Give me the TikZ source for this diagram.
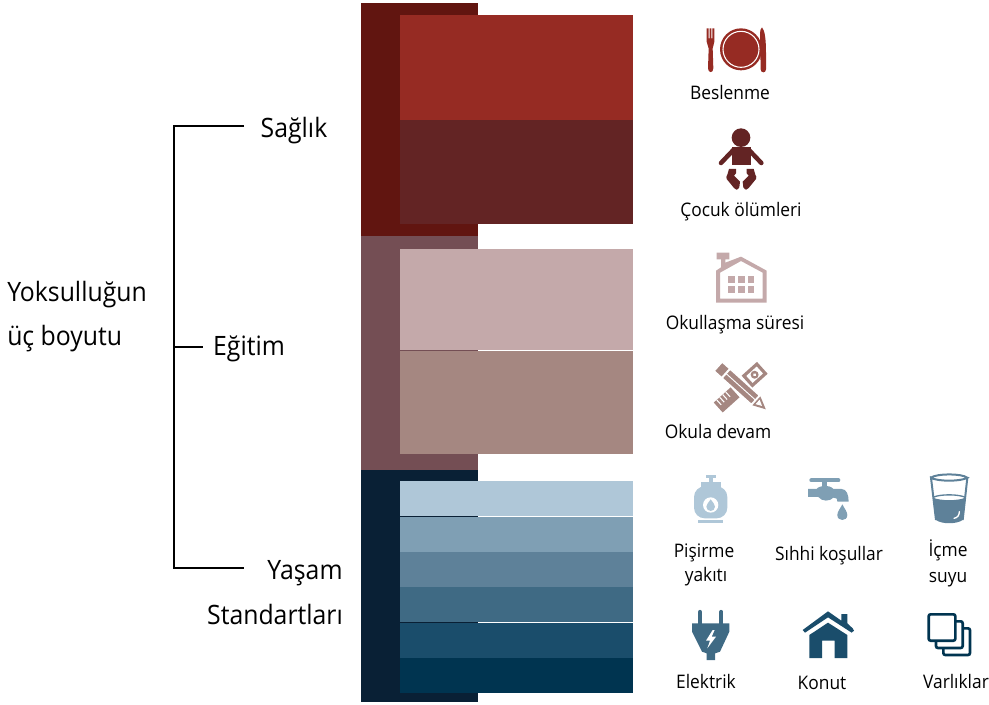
\documentclass[tikz,border=0pt]{standalone}
\usepackage{fontspec}
\setmainfont{Open Sans}[FakeStretch=0.93]
\begin{document}
\begin{tikzpicture}[x=0.75pt,y=-0.75pt,
  big/.style={inner sep=0pt,font=\fontsize{20}{24}\selectfont,text=black},
  lab/.style={inner sep=0pt,font=\fontsize{14}{17}\selectfont,text=black},
  brace/.style={line width=1.6pt,black},
  zoomA/.style={x=.25pt,y=-.25pt}]
\useasboundingbox (0,0) rectangle (989,705);
\definecolor{rA}{HTML}{611510}\definecolor{rB}{HTML}{962B23}\definecolor{rC}{HTML}{632424}
\definecolor{mA}{HTML}{744E54}\definecolor{mB}{HTML}{C4A9AA}\definecolor{mC}{HTML}{A58781}
\definecolor{nA}{HTML}{092035}\definecolor{nB}{HTML}{AFC7D8}\definecolor{nC}{HTML}{7F9FB4}
\definecolor{nD}{HTML}{5E8199}\definecolor{nE}{HTML}{3F6A84}\definecolor{nF}{HTML}{1A4D6B}\definecolor{nG}{HTML}{003450}
% bands
\fill[rA] (361,3) rectangle (478,236);
\fill[mA] (361,236) rectangle (478,470);
\fill[nA] (361,470) rectangle (478,702);
\fill[rB] (400,15) rectangle (633,120);
\fill[rC] (400,120) rectangle (633,224);
\fill[mB] (400,249) rectangle (633,350);
\fill[mC] (400,351) rectangle (633,454);
\fill[nB] (400,481) rectangle (633,516);
\fill[nC] (400,517) rectangle (633,552);
\fill[nD] (400,552) rectangle (633,587);
\fill[nE] (400,587) rectangle (633,622);
\fill[nF] (400,623) rectangle (633,658);
\fill[nG] (400,658) rectangle (633,693);
% left text
\node[big,anchor=west] (yok) at (7,295) {Yoksulluğun};
\node[big,anchor=west] (boy) at (7,339) {üç boyutu};
\node[big] (sag) at (294,131) {Sağlık};
\node[big] (egi) at (249,349) {Eğitim};
\node[big] (yas) at (305,573) {Yaşam};
\node[big] (sta) at (275,614) {Standartları};
\coordinate (bt) at (174,126);
\coordinate (bm) at (174,347);
\coordinate (bb) at (174,568);
\coordinate (et) at (244,126);
\coordinate (em) at (203,347);
\coordinate (eb) at (244,568);
\draw[brace] (et) -- (bt) -- (bb) -- (eb);
\draw[brace] (bm) -- (em);
% labels
\node[lab] (l1) at (730,93) {Beslenme};
\node[lab] (l2) at (741,212) {Çocuk ölümleri};
\node[lab] (l3) at (735,325) {Okullaşma süresi};
\node[lab] (l4) at (718,432) {Okula devam};
\node[lab] (l5) at (704,553) {Pişirme};
\node[lab] (l5b) at (706,577) {yakıtı};
\node[lab] (l6) at (829,556) {Sıhhi koşullar};
\node[lab] (l7) at (948,550) {İçme};
\node[lab] (l7b) at (948,580) {suyu};
\node[lab] (l8) at (706,681) {Elektrik};
\node[lab] (l9) at (822,683) {Konut};
\node[lab] (l10) at (956,681) {Varlıklar};
% plate
\begin{scope}[shift={(660,10)},zoomA]
\fill[rB] (243,118) circle (63);
\draw[white,line width=.8pt] (243,118) circle (54);
\fill[rB] (140,55) -- (146,55) -- (146,85) -- (149,85) -- (149,55) -- (154,55) -- (154,85) -- (157,85) -- (157,55) -- (163,55) -- (163,95) .. controls (163,105) and (158,107) .. (158,115) -- (160,175) .. controls (160,190) and (144,190) .. (144,175) -- (146,115) .. controls (146,107) and (140,105) .. (140,95) -- cycle;
\fill[rB] (306,52) .. controls (315,62) and (318,90) .. (318,130) -- (318,178) .. controls (318,190) and (302,190) .. (302,178) -- (300,70) .. controls (300,62) and (302,56) .. (306,52) -- cycle;
% baby
\fill[rC] (243,383) circle (28);
\fill[rC] (215,412) -- (272,412) -- (272,465) -- (215,465) -- cycle;
\draw[rC,line width=3.4pt,line cap=round] (222,418) -- (183,459);
\draw[rC,line width=3.4pt,line cap=round] (265,418) -- (304,459);
\fill[rC] (207,477) -- (228,477) -- (228,490) -- (222,497) -- (240,515) -- (238,532) .. controls (232,542) and (226,540) .. (222,534) -- (200,507) .. controls (198,503) and (199,498) .. (202,494) -- cycle;
\fill[rC] (281,477) -- (260,477) -- (260,490) -- (266,497) -- (248,515) -- (250,532) .. controls (256,542) and (262,540) .. (266,534) -- (288,507) .. controls (290,503) and (289,498) .. (286,494) -- cycle;
\end{scope}
% school and tools
\begin{scope}[shift={(660,240)},zoomA]
\fill[mB,even odd rule] (170,38) -- (208,38) -- (208,58) -- (196,58) -- (196,68) -- (243,50) -- (320,92) -- (320,188) -- (168,188) -- (168,92) -- (183,82) -- (183,58) -- (170,58) -- cycle
 (180,98) -- (180,176) -- (308,176) -- (308,98) -- (243,63) -- cycle;
\foreach \a in {204,234,263}{\foreach \b in {108,137}{\fill[mB] (\a,\b) rectangle ++(20,21);}}
% ruler: lower-left to upper-right
\begin{scope}[shift={(243,441)},rotate=42]
\fill[mC] (-92,-20) rectangle (-24,20);
\fill[mC] (24,-24) rectangle (86,24);
\foreach \t in {-80,-68,-56,-44}{\draw[white,line width=.8pt] (\t,-20) -- (\t,0);}
\fill[white] (34,-14) rectangle (76,14);
\fill[mC] (55,0) circle (12);
\fill[white] (55,0) circle (5);
\end{scope}
% pencil
\begin{scope}[shift={(243,441)},rotate=-42]
\draw[white,line width=1pt,fill=mC] (-92,-18) rectangle (-62,18);
\draw[white,line width=1pt,fill=mC] (-60,-18) rectangle (58,18);
\draw[white,line width=.7pt] (-60,0) -- (58,0);
\fill[mC] (62,-18) -- (100,0) -- (62,18) -- cycle;
\fill[white] (67,-9) -- (85,0) -- (67,9) -- cycle;
\end{scope}
\end{scope}
% lower icons 1
\begin{scope}[shift={(670,465)},zoomA]
% gas
\fill[nB] (108,30) rectangle (138,38);
\fill[nB] (116,38) rectangle (130,52);
\fill[nB] (94,52) rectangle (152,68);
\fill[nB,rounded corners=8pt] (72,64) rectangle (172,160);
\fill[nB] (85,165) rectangle (158,173);
\fill[white] (122,120) circle (23);
\fill[nB] (122,103) .. controls (128,112) and (135,118) .. (135,125) .. controls (135,142) and (109,142) .. (109,125) .. controls (109,118) and (116,112) .. (122,103) -- cycle;
% tap
\draw[nC,line width=3pt,line cap=round] (424,46) -- (505,46);
\fill[nC] (455,50) rectangle (470,66);
\fill[nC] (414,72) -- (440,72) .. controls (445,62) and (480,58) .. (490,72) -- (515,72) .. controls (530,72) and (536,90) .. (536,110) -- (502,110) .. controls (502,100) and (498,98) .. (490,98) .. controls (480,110) and (455,110) .. (445,96) -- (414,96) -- cycle;
\fill[nC] (517,118) .. controls (523,130) and (532,140) .. (532,150) .. controls (532,170) and (502,170) .. (502,150) .. controls (502,140) and (511,130) .. (517,118) -- cycle;
% glass
\fill[nD] (789,98) .. controls (810,108) and (865,108) .. (886,98) -- (878,165) .. controls (860,178) and (815,178) .. (798,165) -- cycle;
\draw[nD,line width=1.5pt] (783,38) .. controls (800,25) and (875,25) .. (892,38) .. controls (875,50) and (800,50) .. (783,38) -- (798,165);
\draw[nD,line width=1.5pt] (892,38) -- (878,165);
\draw[nD,line width=1pt] (789,97) .. controls (810,87) and (865,87) .. (886,97);
\draw[white,line width=1pt,line cap=round] (868,140) .. controls (868,152) and (862,158) .. (852,160);
\end{scope}
% lower icons 2
\begin{scope}[shift={(670,600)},zoomA]
% plug
\draw[nE,line width=3.2pt,line cap=round] (90,36) -- (90,70);
\draw[nE,line width=3.2pt,line cap=round] (154,36) -- (154,70);
\fill[nE] (66,70) -- (178,70) -- (178,95) -- (150,155) -- (135,160) -- (135,180) -- (110,180) -- (110,160) -- (96,155) -- (66,95) -- cycle;
\fill[white] (128,90) -- (108,122) -- (120,122) -- (112,145) -- (138,110) -- (125,110) -- (134,90) -- cycle;
% house
\fill[nF] (418,105) -- (474,68) -- (532,105) -- (532,174) -- (494,174) -- (494,122) -- (456,122) -- (456,174) -- (418,174) -- cycle;
\fill[nF] (514,42) -- (532,42) -- (532,70) -- (548,85) -- (552,92) -- (545,98) -- (474,52) -- (405,98) -- (398,90) -- (474,34) -- (514,62) -- cycle;
% assets
\draw[nG,line width=2pt,rounded corners=1.5pt,fill=white] (820,85) rectangle (900,165);
\draw[nG,line width=2pt,rounded corners=1.5pt,fill=white] (798,64) rectangle (878,144);
\draw[nG,line width=2pt,rounded corners=1.5pt,fill=white] (776,43) rectangle (856,122);
\end{scope}
\end{tikzpicture}
\end{document}
